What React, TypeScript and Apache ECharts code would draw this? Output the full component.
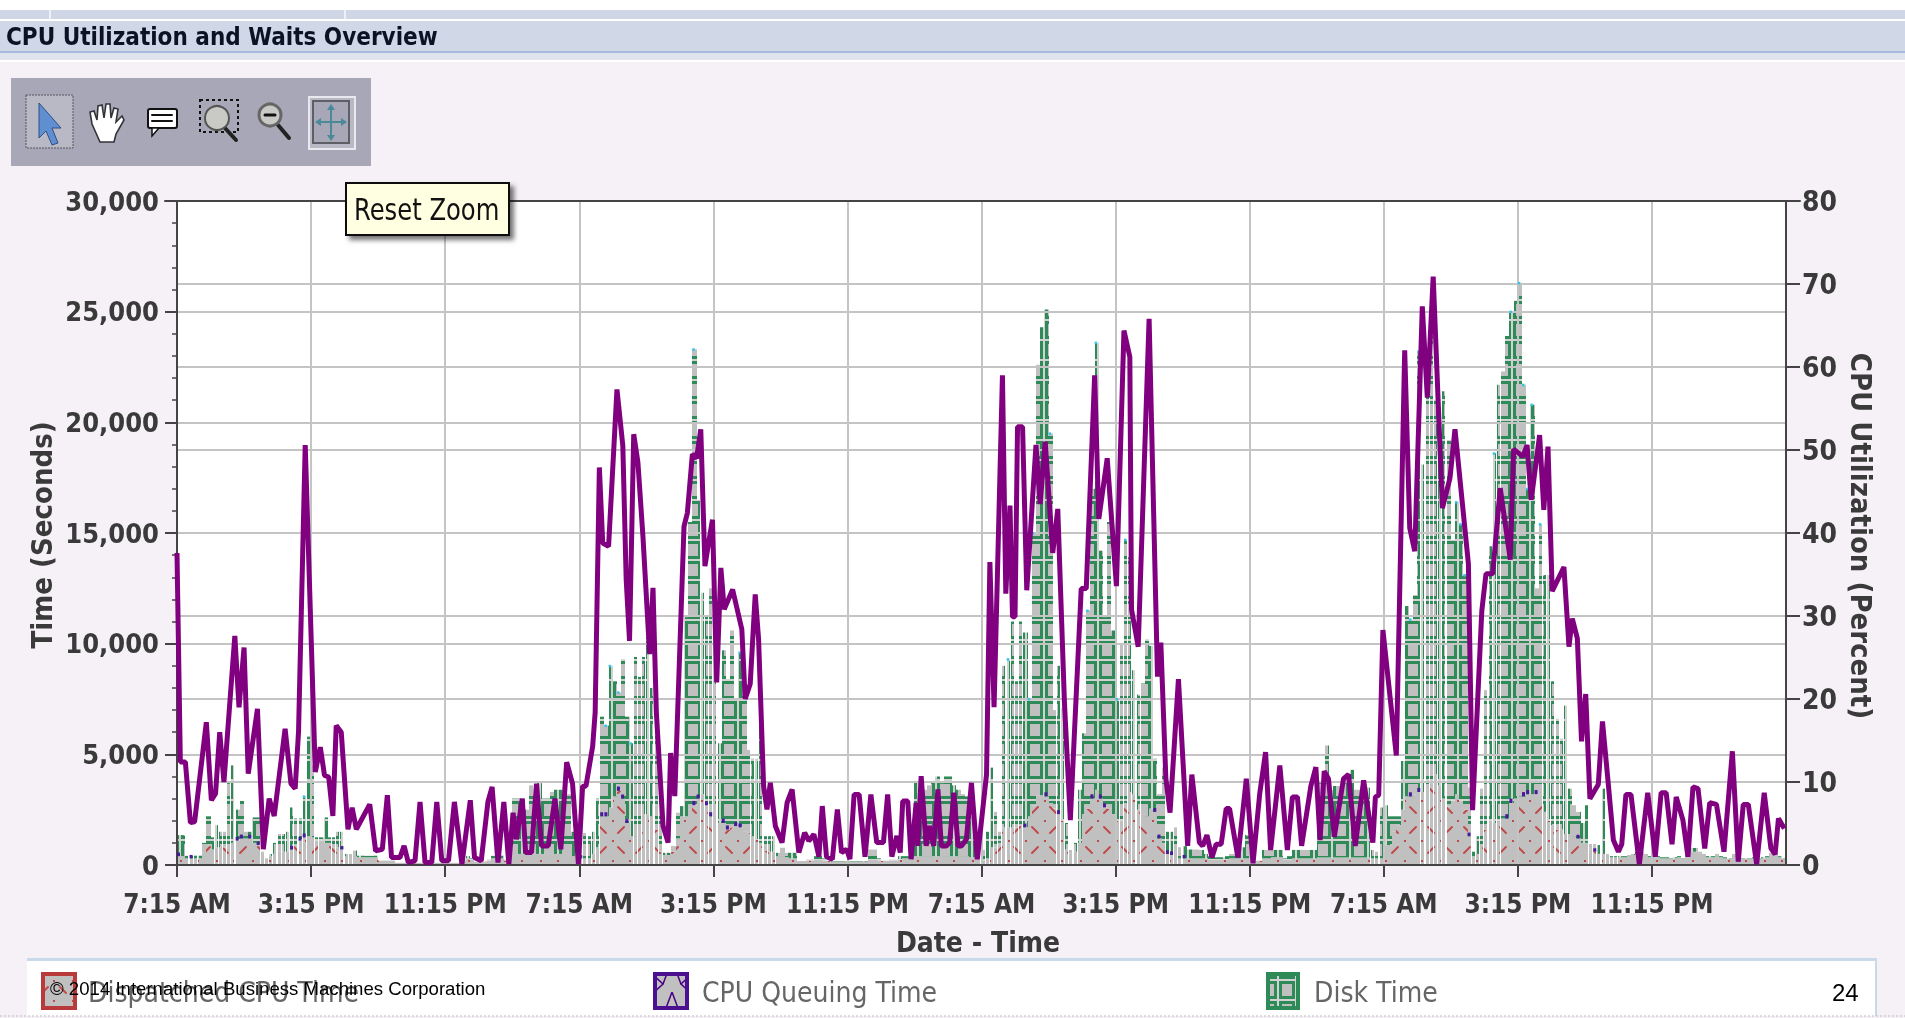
import React, { useEffect, useRef } from "react";
import * as echarts from "echarts";

const title = "CPU Utilization and Waits Overview";
const xTickLabels = ["7:15 AM","3:15 PM","11:15 PM","7:15 AM","3:15 PM","11:15 PM","7:15 AM","3:15 PM","11:15 PM","7:15 AM","3:15 PM","11:15 PM"];

// stack top per quarter hour, seconds
const barTop = [
1350,1350,420,420, 420,420,1000,2200, 1250,1800,1500,1500, 3700,4500,2500,2900, 1500,1500,2150,2150, 600,300,500,1000,
1400,1400,1500,2600, 2100,2100,3100,5800, 4500,1250,1250,2150, 1250,1250,1500,1500, 500,500,650,420, 420,420,420,420,
200,200,200,200, 100,100,100,100, 100,100,100,100, 100,100,100,100, 100,100,100,100, 250,400,300,150, 150,150,250,420, 420,420,250,300,
3000,3000,3000,2500, 3600,3000,3700,3000, 3000,3300,3400,3400, 3400,3200,1500,1400,
1450,1450,1300,1500, 3000,6700,6300,9000, 8300,7800,9300,6700, 5500,9400,8500,9400, 10300,8000,6400,3100, 550,550,860,2360,
2660,11200,15500,23300, 16500,12300,11250,12500, 8400,5500,9700,8400, 10600,7500,9600,8100, 5200,4800,4800,8000, 1300,1300,1300,550,
780,550,550,550, 180,180,250,250, 400,400,300,200, 180,180,180,180, 180,180,180,180, 180,700,700,300, 200,200,250,250, 400,400,400,1500,
3800,3600,3400,3600, 3800,4000,3700,4000, 4000,3600,3400,3200, 3100,2500,1500,800,
680,1500,4400,2400, 1500,9000,9300,11000, 8300,11000,10500,7500, 15000,22600,24300,25100, 19500,7000,9000,7100, 1900,680,1000,3400,
5950,11500,17000,23600, 14200,11200,15500,10600, 7500,10000,14700,13900, 8800,7700,8200,10200, 9900,4800,3200,4400, 1500,1500,1700,800,
850,700,700,700, 680,500,400,350, 350,350,400,500, 500,500,800,1360, 200,200,200,680, 680,680,680,680, 300,400,680,680, 680,680,680,680,
3700,3400,5400,3400, 3570,3570,3700,4000, 4300,3400,3400,3500, 3500,680,600,2600,
2700,2200,2200,2200, 4700,11700,11100,12200, 23200,18100,21200,24600, 21000,18500,21400,19200, 14700,16400,15400,13100, 3500,600,1300,3450,
7900,14400,18600,21700, 22300,23900,25000,25500, 26300,21700,17000,20800, 12500,15400,13100,13100, 8300,6600,5700,7200, 3450,2700,2400,1900,
2700,950,950,900, 3450,500,400,400, 400,400,450,500, 600,600,500,400, 400,400,350,350, 300,350,400,300, 500,770,770,600, 500,400,400,500,
400,350,300,500, 1100,300,300,300, 350,300,350,400, 540,540,400,300,
];

// dispatched CPU time per quarter hour, seconds
const dispatchedCpu = [
400,400,300,300, 300,300,400,900, 700,800,800,800, 900,1000,1100,1200, 1200,1200,1000,900, 500,300,400,500,
600,600,600,700, 900,1100,1250,1300, 1250,1100,1100,1000, 1000,800,800,700, 400,400,400,350, 350,350,350,350,
200,200,200,200, 100,100,100,100, 100,100,100,100, 100,100,100,100, 100,100,100,100, 200,300,250,150, 150,150,200,300, 300,300,200,250,
450,500,500,500, 500,500,500,500, 500,500,500,500, 500,450,400,400,
300,300,300,500, 800,2200,2200,2600, 3100,3350,3000,1900, 1300,1300,1400,2300, 2300,2200,1600,600, 450,450,600,1200,
2200,2200,2500,2700, 3000,3200,2700,2200, 2300,1900,1900,1600, 1700,1760,1700,1500, 1460,1300,1160,1000, 650,600,600,400,
400,350,300,300, 180,180,200,200, 250,250,200,180, 160,160,160,160, 160,160,160,160, 160,250,250,200, 180,180,200,200, 250,300,300,350,
400,400,400,400, 400,400,400,400, 400,400,400,400, 400,350,350,300,
170,300,800,800, 1000,1700,1700,1700, 1700,1800,1700,2200, 2700,3150,3150,3100, 2800,2550,2300,2000, 700,500,600,1000,
2300,2550,3000,3400, 3000,2600,2550,2300, 2000,2000,2800,3300, 3200,2500,2300,2200, 2550,2400,1200,1000, 500,450,400,300,
300,300,300,300, 300,300,250,250, 250,250,250,300, 300,300,300,300, 180,180,180,300, 300,350,350,350, 250,250,300,300, 300,300,300,300,
340,340,340,340, 340,340,340,340, 340,340,340,340, 340,300,300,300,
900,900,1500,1800, 2500,3100,3100,3200, 3300,3300,3400,3700, 4100,3600,3000,2650, 2900,3200,2900,2500, 1300,400,500,800,
1600,2000,1900,2000, 2100,2100,2800,3000, 3100,3100,3200,3200, 3200,3200,2400,2000, 1800,1600,1600,1400, 1400,1300,1200,1000,
1000,700,600,500, 500,400,350,350, 350,350,400,450, 500,500,450,350, 350,350,300,300, 280,300,350,280, 400,600,600,500, 400,350,350,400,
350,300,280,400, 600,280,280,280, 300,280,300,350, 450,450,350,280,
];

// runs of hours drawn as contiguous bars
const contiguousRuns = [[0,0.5],[1.25,2],[3.5,4.75],[8.5,9],[10.5,23.75],[25.25,27],[29,31],[32.25,34],[35.75,47.75],[50.5,52.25],[53.75,56],[57.5,58.75],[60,71],[72,74],[75.75,77],[79,81.25],[83,84],[86,96]];

const queueHours = [0,0.75,3.5,3.75,4.25,4.75,6.75,7.25,7.5,9.75,24,25.25,25.5,26.25,26.5,26.75,30.75,31,31.5,31.75,32.5,32.75,33.25,33.5,50.5,51.75,52.5,54.5,55,55.25,58.25,58.5,59,59.25,60,73.5,74,77,79.25,79.5,80.25,80.5,81,83.5,84.5];
const queueTime = [120,110,130,130,120,110,120,130,130,110,100,140,140,150,140,130,150,140,130,140,150,140,140,130,130,140,130,150,140,140,130,130,120,120,110,140,140,120,150,150,150,140,140,120,110];

// quarter hours whose stack carries a small cyan fleck on top
const topFleckHours = [7.5,25.5,25.75,26.25,27,30.75,33.5,33.75,49.5,50.75,51,52,54.25,54.75,56,56.5,73.5,74,76.25,76.5,76.75,78.5,79.5,80,80.25,80.5,80.75,81.25];

const lineHours = [0,.2,.5,.8,1.05,1.75,2.05,2.3,2.55,2.8,3.45,3.7,4,4.25,4.8,5.15,5.5,5.8,6.45,6.8,7.05,7.25,7.65,8.25,8.55,8.8,9.05,9.3,9.5,9.8,10.2,10.45,10.7,11.5,11.85,12.25,12.55,12.8,13.3,13.55,13.8,14.2,14.5,14.8,15.2,15.5,15.8,16.2,16.55,17,17.5,17.75,18.15,18.55,18.8,19.15,19.5,19.8,20.05,20.25,20.6,20.8,21.15,21.45,21.75,22.15,22.55,22.9,23.25,23.6,23.95,
24.2,24.4,24.8,24.95,25.2,25.4,25.75,26.25,26.6,26.8,27,27.25,27.5,27.8,28.2,28.4,28.6,29,29.3,29.45,29.7,30.25,30.45,30.75,31,31.25,31.5,31.75,31.95,32.2,32.45,32.65,33.15,33.7,33.9,34.2,34.5,34.7,35,35.2,35.4,35.7,36.1,36.4,36.7,37.1,37.45,37.7,38,38.3,38.5,38.75,39.1,39.4,39.65,39.95,40.15,40.4,40.7,41.05,41.4,41.75,42.15,42.4,42.65,42.95,43.15,43.3,43.6,43.8,44.1,44.2,44.4,44.7,44.9,45.15,45.4,45.6,45.9,46.1,46.35,46.6,46.8,47.1,47.4,47.75,
48.3,48.5,48.75,49.25,49.45,49.7,49.85,50,50.15,50.45,50.7,51.25,51.5,51.8,52.25,52.55,52.95,53.3,53.95,54.25,54.75,55,55.5,56.05,56.5,56.85,56.95,57.35,58,58.5,58.7,59,59.25,59.75,60.3,60.55,61,61.2,61.45,61.75,62,62.3,62.6,62.8,63.3,63.8,64.2,64.6,64.95,65.25,65.8,66.25,66.55,66.85,67.1,67.65,67.95,68.2,68.45,68.7,69.05,69.6,69.9,70.3,70.8,71.35,71.5,71.7,71.95,
72.75,73.25,73.55,73.85,74.3,74.6,74.95,75.5,75.95,76.25,77.05,77.3,77.85,78.1,78.5,78.95,79.55,79.75,80.3,80.55,80.8,81.3,81.55,81.8,82.05,82.75,83.05,83.25,83.55,83.8,84.05,84.3,84.8,85.05,85.4,85.7,86,86.2,86.45,86.75,87.25,87.75,88.2,88.55,88.85,89.2,89.45,89.85,90.15,90.45,90.75,91.15,91.45,91.85,92.3,92.8,93.15,93.45,93.75,94.25,94.7,95.1,95.35,95.55,95.9];
const cpuUtilization = [37.6,12.4,12.4,5.1,5.2,17.2,7.8,8.6,16,10,27.6,19,26.2,11,18.8,1.9,8,5.9,16.4,9.8,9.2,16,50.6,11.2,14.2,10.8,10.6,5.9,16.8,16,4.3,6.9,4.3,7.3,1.7,1.9,8.4,.9,.9,2.3,.3,.5,7.6,.3,.3,7.6,.5,.5,7.6,.1,7.8,.9,.5,7.6,9.4,.3,7.6,.1,6.3,3.1,8,1.5,1.5,9.8,2.3,2.3,8,1.9,12.4,9.8,.1,
9.5,9.5,14.3,18.4,47.9,38.8,38.4,57.3,50.5,34.4,27,51.9,48.5,39.6,25.4,33.4,18.4,4.7,2.7,13.5,8.3,40.8,42.4,49.5,49,52.5,36,39.2,41.6,22,35.8,30.8,33.2,28.4,20,21.8,32.6,27.2,9.5,6.7,9.9,4.7,2.7,7.5,9.1,1.5,3.9,2.9,3.7,1,7.1,1,.7,6.7,1.5,1.9,.7,8.5,8.5,1,8.5,2.7,2.7,8.5,1,3.5,1.5,7.7,7.7,.7,7.5,2.3,10.7,2.3,4.7,2.3,9.1,2.3,2.3,2.7,8.7,2.3,2.3,3.1,9.9,.7,
10.9,36.5,19,59,32.7,43.3,29.9,29.9,52.8,52.8,33.1,50.6,43.5,51,37.6,42.9,19.5,5.4,33.3,33.3,59,41.7,49,33.6,64.4,61.2,30.8,26.3,65.8,22.7,26.8,10.4,6.3,22.4,2.3,10.9,2.7,2.3,3.6,.9,2.5,2.5,6.8,6.8,.9,10.4,.2,8.6,13.6,1.8,12,1.8,8.2,8.2,2.3,9.5,11.8,3,11.3,10.4,3.4,10.4,10.9,2.3,10.2,2.7,8.2,8.4,28.3,
13.2,62,40.6,37.8,67.3,56.3,70.9,43,46.6,52.5,36.3,6.6,30.6,35.1,35.1,45.4,36.8,50.1,49.2,50.6,44,51.8,42.8,50.4,33,35.9,26.3,29.7,27.3,14.9,20.6,8,9.7,17.3,9.7,3,1.6,2.5,8.5,8.5,.1,8.7,1,8.7,8.7,2.5,8.2,5.4,1,9.4,9.2,2,7.5,7.3,1.6,13.7,.4,7.3,7.3,.1,8.7,2,1.3,5.6,4.4];

const seriesNames = ["Dispatched CPU Time", "CPU Queuing Time", "Disk Time"];
const FONT = "'DejaVu Sans Condensed', 'DejaVu Sans', sans-serif";

function tile(w: number, h: number, draw: (c: CanvasRenderingContext2D) => void) {
  const cv = document.createElement("canvas");
  cv.width = w; cv.height = h;
  draw(cv.getContext("2d") as CanvasRenderingContext2D);
  return cv;
}
function makeDiskTile() {
  return tile(18, 20, (c) => {
    c.fillStyle = "#d2d2d2"; c.fillRect(0, 0, 18, 20);
    c.fillStyle = "#2e8b57"; c.fillRect(1, 1, 16, 18);
    c.fillStyle = "#c0c0c0"; c.fillRect(4, 4, 10, 12);
  });
}
function makeCpuTile() {
  return tile(36, 40, (c) => {
    c.fillStyle = "#c0c0c0"; c.fillRect(0, 0, 36, 40);
    c.strokeStyle = "#c04a4a"; c.lineWidth = 2; c.lineCap = "round";
    const seg = (a: number, b: number, d: number, e: number) => { c.beginPath(); c.moveTo(a, b); c.lineTo(d, e); c.stroke(); };
    seg(6, 7, 12, 13); seg(24, 13, 30, 7); seg(6, 33, 12, 27); seg(24, 27, 30, 33);
    c.fillStyle = "#c04a4a";
    [[17, 0], [0, 0], [17, 20], [0, 20]].forEach(([x, y]) => c.fillRect(x, y, 2, 2));
  });
}
function makeQueueIcon(s: number) {
  return tile(s, s, (c) => {
    c.fillStyle = "#c0c0c0"; c.fillRect(0, 0, s, s);
    c.strokeStyle = "#4b0082"; c.lineWidth = 1.5;
    c.beginPath(); c.moveTo(s*0.5, s*0.55); c.lineTo(s*0.72, s*0.75); c.lineTo(s*0.5, s*0.95); c.lineTo(s*0.28, s*0.75); c.closePath(); c.stroke();
    c.beginPath(); c.moveTo(0, 0); c.lineTo(s*0.28, s*0.75); c.moveTo(s, 0); c.lineTo(s*0.72, s*0.75); c.moveTo(s*0.5, 0); c.lineTo(s*0.5, s*0.2); c.stroke();
  });
}

function inRuns(h: number) {
  return contiguousRuns.some(([a, b]) => h >= a && h < b);
}

export default function App() {
  const ref = useRef<HTMLDivElement>(null);
  useEffect(() => {
    const chart = echarts.init(ref.current as HTMLDivElement, undefined, { renderer: "svg" });
    const diskFill: any = { image: makeDiskTile(), repeat: "repeat", x: 0, y: 15 };
    const cpuFill: any = { image: makeCpuTile(), repeat: "repeat", x: 0, y: 15 };
    const quarterHours = barTop.map((_, i) => i / 4);

    const barRender = (fill: any) => (_p: any, api: any) => {
      const h = api.value(0), lo = api.value(1), hi = api.value(2);
      if (hi <= lo) return null;
      const a = api.coord([h, lo]);
      const b = api.coord([h + 0.25, hi]);
      const wide = inRuns(h);
      const x = Math.round(a[0]);
      const w = wide ? Math.round(b[0]) - x : 3;
      return { type: "rect", shape: { x, y: b[1], width: w, height: a[1] - b[1] }, style: { fill } };
    };
    const cpuData = quarterHours.map((h, i) => [h, 0, Math.min(dispatchedCpu[i], barTop[i])]);
    const diskData = quarterHours.map((h, i) => [h, Math.min(dispatchedCpu[i], barTop[i]), barTop[i]]);
    const queueData = queueHours.map((h, k) => {
      const base = Math.min(dispatchedCpu[h * 4], barTop[h * 4]);
      return [h, base, base + queueTime[k]];
    });
    const fleckData = topFleckHours.map((h) => [h, barTop[h * 4]]);

    const axisText = { color: "#3a3a3a", fontFamily: FONT, fontWeight: "bold" as const };
    const grid = "#c4c4c4";
    const dark = "#444444";
    const L = 177, R = 1786, T = 201, B = 865;

    const g: any[] = [];
    const rect = (x: number, y: number, w: number, h: number, fill: any, extra: any = {}) =>
      g.push({ type: "rect", silent: true, z: extra.z ?? 10, shape: { x, y, width: w, height: h, r: extra.r ?? 0 }, style: { fill, stroke: extra.stroke, lineWidth: extra.lw, lineDash: extra.dash, shadowBlur: extra.blur, shadowColor: extra.sc, shadowOffsetX: extra.so, shadowOffsetY: extra.so } });
    const txt = (text: string, x: number, y: number, font: string, fill: string, extra: any = {}) =>
      g.push({ type: "text", silent: true, z: extra.z ?? 12, x, y, rotation: extra.rot ?? 0, scaleX: extra.sx ?? 1, style: { text, font, fill, textAlign: extra.align ?? "left", textVerticalAlign: "middle", textBaseline: "middle" } });
    const poly = (points: number[][], fill: any, stroke?: string, lw = 1) =>
      g.push({ type: "polygon", silent: true, z: 11, shape: { points }, style: { fill, stroke, lineWidth: lw } });
    const seg = (x1: number, y1: number, x2: number, y2: number, stroke: string, lw: number) =>
      g.push({ type: "line", silent: true, z: 11, shape: { x1, y1, x2, y2 }, style: { stroke, lineWidth: lw, lineCap: "round" } });
    const circ = (cx: number, cy: number, r: number, fill: string, stroke: string, lw: number) =>
      g.push({ type: "circle", silent: true, z: 11, shape: { cx, cy, r }, style: { fill, stroke, lineWidth: lw } });

    // page chrome
    rect(0, 0, 1905, 1018, "#ffffff", { z: -5 });
    rect(0, 62, 1905, 956, "#f5f1f6", { z: -4 });
    rect(0, 10, 1905, 9, "#cfd7e7", { z: -3 });
    rect(49, 10, 2, 9, "#eef1f7", { z: -3 });
    rect(344, 10, 2, 9, "#eef1f7", { z: -3 });
    rect(0, 21, 1905, 31, "#d0d8e7", { z: -3 });
    rect(0, 51, 1905, 2, "#a6bbdd", { z: -3 });
    rect(0, 53, 1905, 7, "#dee3ed", { z: -3 });
    txt(title, 6, 37, "bold 24px 'DejaVu Sans Condensed'", "#0b1224");

    // plot top border, over the grey top grid line
    seg(165, T, 1800, T, dark, 2);

    // toolbar
    rect(11, 78, 360, 88, "#a8a7b8");
    rect(26, 95, 47, 53, "#b9b9c6", { stroke: "#55555f", lw: 1, dash: [2, 1] });
    poly([[39, 103], [61, 128], [52, 128], [58, 143], [52, 145], [46, 131], [39, 138]], "#5f8fd0", "#2e4f86", 1);
    // hand
    poly([[92, 124], [90, 112], [94, 111], [97, 120], [98, 106], [102, 105], [104, 118], [106, 104], [110, 104], [111, 118], [114, 108], [118, 109], [116, 122], [122, 116], [124, 120], [116, 134], [114, 142], [100, 142]], "#ffffff", "#33333a", 1.6);
    // note
    rect(148, 109, 29, 19, "#ffffff", { stroke: "#111", lw: 2, r: 2 });
    poly([[152, 128], [152, 136], [159, 128]], "#ffffff", "#111", 1.5);
    seg(152, 115, 172, 115, "#111", 2); seg(152, 121, 172, 121, "#111", 2);
    // marquee zoom
    rect(200, 100, 38, 32, "none", { stroke: "#111", lw: 2, dash: [3, 3] });
    seg(224, 127, 236, 140, "#222", 4);
    circ(217, 118, 12, "#c9c9c6", "#555", 2);
    // zoom out
    seg(278, 125, 289, 138, "#222", 4);
    circ(270, 115, 11, "#c9c9c6", "#666", 3);
    seg(265, 115, 275, 115, "#111", 3);
    // fit
    rect(309, 97, 46, 52, "#b9b9c6", { stroke: "#e8e8ee", lw: 2 });
    rect(313, 101, 36, 42, "#a8a7b8", { stroke: "#5e5e66", lw: 2 });
    seg(318, 122, 345, 122, "#4a8a98", 2); seg(331, 107, 331, 138, "#4a8a98", 2);
    poly([[331, 104], [327, 110], [335, 110]], "#4a8a98"); poly([[331, 141], [327, 135], [335, 135]], "#4a8a98");
    poly([[315, 122], [321, 118], [321, 126]], "#4a8a98"); poly([[347, 122], [341, 118], [341, 126]], "#4a8a98");

    // reset zoom tooltip
    rect(346, 183, 163, 52, "#ffffe1", { stroke: "#111", lw: 2, blur: 5, sc: "rgba(0,0,0,0.55)", so: 4, z: 20 });
    txt("Reset Zoom", 354, 210, "30px 'DejaVu Sans Condensed'", "#111", { z: 21, sx: 0.9 });

    // axis names
    txt("Time (Seconds)", 42, 535, "bold 29px 'DejaVu Sans Condensed'", "#3a3a3a", { rot: Math.PI / 2, align: "center" });
    txt("CPU Utilization (Percent)", 1861, 536, "bold 29px 'DejaVu Sans Condensed'", "#3a3a3a", { rot: -Math.PI / 2, align: "center" });
    txt("Date - Time", 978, 942, "bold 28px 'DejaVu Sans Condensed'", "#3a3a3a", { align: "center" });

    // legend panel
    rect(27, 961, 1848, 55, "#ffffff");
    rect(27, 958, 1850, 3, "#c9d9ea");
    rect(1875, 958, 2, 58, "#c9d9ea");
    g.push({ type: "line", silent: true, z: 10, shape: { x1: 0, y1: 1016, x2: 1905, y2: 1016 }, style: { stroke: "#bbbbbb", lineWidth: 1, lineDash: [2, 2] } });
    const legendFont = "28px 'DejaVu Sans Condensed'";
    rect(43, 974, 32, 34, { image: makeCpuTile(), repeat: "repeat", x: 43, y: 974 }, { stroke: "#b83a3a", lw: 4 });
    txt(seriesNames[0], 88, 992, legendFont, "#666");
    rect(655, 974, 32, 34, { image: makeQueueIcon(32), repeat: "repeat", x: 655, y: 974 }, { stroke: "#4b0f90", lw: 4 });
    txt(seriesNames[1], 702, 992, legendFont, "#666");
    rect(1268, 974, 30, 34, { image: makeDiskTile(), repeat: "repeat", x: 1268, y: 972 }, { stroke: "#2e8b57", lw: 4 });
    txt(seriesNames[2], 1314, 992, legendFont, "#666");

    // slide footer
    txt("© 2014 International Business Machines Corporation", 50, 988, "18.6px 'Liberation Sans'", "#000", { z: 25 });
    txt("24", 1832, 992, "24px 'Liberation Sans'", "#000", { z: 25 });

    chart.setOption({
      animation: false,
      grid: { left: L, right: 1905 - R, top: T, bottom: 1018 - B, show: true, backgroundColor: "#ffffff", borderColor: dark, borderWidth: 2 },
      xAxis: {
        type: "value", min: 0, max: 96, interval: 8, z: 3,
        axisLine: { show: true, lineStyle: { color: dark, width: 2 } },
        axisTick: { show: true, length: 12, lineStyle: { color: dark, width: 2 } },
        axisLabel: { ...axisText, fontSize: 26, margin: 26, showMaxLabel: false, formatter: (v: number) => xTickLabels[v / 8] ?? "" },
        splitLine: { show: true, lineStyle: { color: grid, width: 2 } },
      },
      yAxis: [
        {
          type: "value", min: 0, max: 30000, interval: 5000, z: 3,
          axisLine: { show: true, lineStyle: { color: dark, width: 2 } },
          axisTick: { show: true, length: 12, lineStyle: { color: dark, width: 2 } },
          minorTick: { show: true, splitNumber: 5, length: 5, lineStyle: { color: dark, width: 1.5 } },
          axisLabel: { ...axisText, fontSize: 27, margin: 18, formatter: (v: number) => v.toLocaleString("en-US") },
          splitLine: { show: true, lineStyle: { color: grid, width: 2 } },
        },
        {
          type: "value", min: 0, max: 80, interval: 10, position: "right", z: 3,
          axisLine: { show: true, lineStyle: { color: dark, width: 2 } },
          axisTick: { show: true, length: 14, lineStyle: { color: dark, width: 2 } },
          axisLabel: { ...axisText, fontSize: 28, margin: 16 },
          splitLine: { show: true, lineStyle: { color: grid, width: 2 } },
        },
      ],
      series: [
        { type: "custom", name: seriesNames[0], z: 2, renderItem: barRender(cpuFill), encode: { x: 0, y: [1, 2] }, data: cpuData },
        { type: "custom", name: seriesNames[2], z: 2, renderItem: barRender(diskFill), encode: { x: 0, y: [1, 2] }, data: diskData },
        { type: "custom", name: seriesNames[1], z: 4, encode: { x: 0, y: [1, 2] }, data: queueData, renderItem: (_p: any, api: any) => {
          const a = api.coord([api.value(0), api.value(1)]);
          const b = api.coord([api.value(0), api.value(2)]);
          return { type: "rect", shape: { x: a[0], y: b[1] - 1, width: 3, height: a[1] - b[1] + 1 }, style: { fill: "#4b1a9a" } };
        } },
        { type: "custom", name: "Other", z: 4, encode: { x: 0, y: 1 }, data: fleckData, renderItem: (_p: any, api: any) => {
          const a = api.coord([api.value(0), api.value(1)]);
          return { type: "rect", shape: { x: a[0], y: a[1] - 1, width: 2.5, height: 2.5 }, style: { fill: "#35c4e8" } };
        } },
        { type: "line", name: "CPU Utilization", yAxisIndex: 1, z: 5, showSymbol: false, symbol: "none", lineStyle: { color: "#800080", width: 5 }, data: lineHours.map((h, i) => [h, cpuUtilization[i]]) },
      ],
      graphic: { elements: g },
    });
    return () => chart.dispose();
  }, []);
  return <div ref={ref} style={{ position: "fixed", left: 0, top: 0, width: 1905, height: 1018 }} />;
}
